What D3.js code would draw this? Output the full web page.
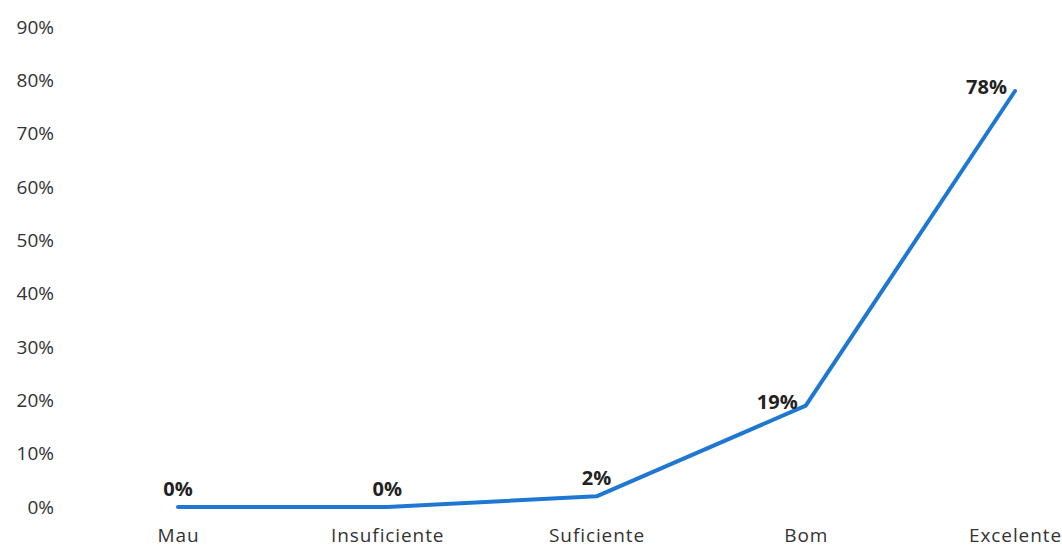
<!DOCTYPE html>
<html>
<head>
<meta charset="utf-8">
<script src="https://cdn.jsdelivr.net/npm/d3@7"></script>
<style>
  html, body { margin: 0; padding: 0; background: #fff; }
  svg { display: block; }
</style>
</head>
<body>
<svg id="chart" width="1062" height="547"></svg>
<script>
const categories = ["Mau", "Insuficiente", "Suficiente", "Bom", "Excelente"];
const values = [0, 0, 2, 19, 78];
const valueLabels = ["0%", "0%", "2%", "19%", "78%"];
const yTicks = [0, 10, 20, 30, 40, 50, 60, 70, 80, 90];

const svg = d3.select("#chart");
const font = "'Open Sans', sans-serif";

const x = d3.scalePoint().domain(categories).range([178, 1015]);
const y = d3.scaleLinear().domain([0, 90]).range([507, 27]);

// Y axis (labels only)
const yAxis = svg.append("g")
  .attr("transform", "translate(54,0)")
  .call(d3.axisLeft(y).tickValues(yTicks).tickFormat(d => d + "%").tickSize(0).tickPadding(0));
yAxis.select(".domain").remove();
yAxis.selectAll("text")
  .attr("font-family", font).attr("font-size", 19).attr("fill", "#333");

// X axis (labels only)
const xAxis = svg.append("g")
  .attr("transform", "translate(0,528)")
  .call(d3.axisBottom(x).tickSize(0).tickPadding(0));
xAxis.select(".domain").remove();
xAxis.selectAll("text")
  .attr("font-family", font).attr("font-size", 19).attr("letter-spacing", 0.9).attr("fill", "#333");

const data = categories.map((c, i) => ({ c, v: values[i], label: valueLabels[i] }));

const line = d3.line().x(d => x(d.c)).y(d => y(d.v));
svg.append("path")
  .datum(data)
  .attr("d", line)
  .attr("fill", "none")
  .attr("stroke", "#1e78d2")
  .attr("stroke-width", 4)
  .attr("stroke-linejoin", "round")
  .attr("stroke-linecap", "round");

// Data labels: above for small values, left for the larger ones
svg.append("g").selectAll("text")
  .data(data)
  .join("text")
  .attr("font-family", font)
  .attr("font-size", 20)
  .attr("font-weight", "bold")
  .attr("fill", "#222")
  .attr("text-anchor", (d, i) => i >= 3 ? "end" : "middle")
  .attr("x", (d, i) => i >= 3 ? x(d.c) - 8 : x(d.c))
  .attr("y", (d, i) => i >= 3 ? y(d.v) + 3 : y(d.v) - 11)
  .text(d => d.label);
</script>
</body>
</html>
